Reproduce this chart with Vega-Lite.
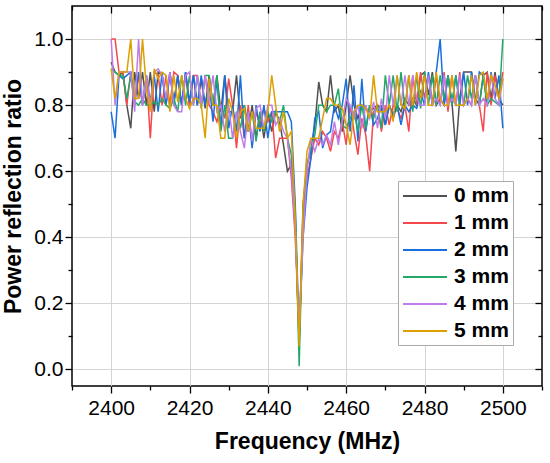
{
  "$schema": "https://vega.github.io/schema/vega-lite/v6.json",
  "width": 470,
  "height": 380,
  "autosize": {"type": "none"},
  "padding": {"left": 72, "top": 6, "right": 8, "bottom": 77},
  "background": "white",
  "data": {"values": [
    {"f":2400,"0 mm":0.93,"1 mm":1.00,"2 mm":0.78,"3 mm":0.91,"4 mm":1.00,"5 mm":0.91},
    {"f":2401,"0 mm":0.90,"1 mm":1.00,"2 mm":0.70,"3 mm":0.90,"4 mm":0.80,"5 mm":0.82},
    {"f":2402,"0 mm":0.89,"1 mm":0.90,"2 mm":0.89,"3 mm":0.89,"4 mm":0.90,"5 mm":0.90},
    {"f":2403,"0 mm":0.90,"1 mm":0.90,"2 mm":0.88,"3 mm":0.89,"4 mm":0.90,"5 mm":0.90},
    {"f":2404,"0 mm":0.80,"1 mm":0.80,"2 mm":0.89,"3 mm":0.82,"4 mm":0.90,"5 mm":0.90},
    {"f":2405,"0 mm":0.73,"1 mm":0.90,"2 mm":0.90,"3 mm":0.89,"4 mm":0.90,"5 mm":1.00},
    {"f":2406,"0 mm":0.90,"1 mm":0.80,"2 mm":0.81,"3 mm":0.81,"4 mm":0.78,"5 mm":0.82},
    {"f":2407,"0 mm":0.82,"1 mm":0.89,"2 mm":0.90,"3 mm":0.80,"4 mm":1.00,"5 mm":0.82},
    {"f":2408,"0 mm":0.90,"1 mm":0.80,"2 mm":0.80,"3 mm":0.82,"4 mm":0.80,"5 mm":1.00},
    {"f":2409,"0 mm":0.80,"1 mm":0.89,"2 mm":0.89,"3 mm":0.80,"4 mm":0.89,"5 mm":0.85},
    {"f":2410,"0 mm":0.90,"1 mm":0.70,"2 mm":0.81,"3 mm":0.80,"4 mm":0.80,"5 mm":0.78},
    {"f":2411,"0 mm":0.78,"1 mm":0.90,"2 mm":0.89,"3 mm":0.81,"4 mm":0.90,"5 mm":0.91},
    {"f":2412,"0 mm":0.90,"1 mm":0.89,"2 mm":0.78,"3 mm":0.80,"4 mm":0.91,"5 mm":0.88},
    {"f":2413,"0 mm":0.89,"1 mm":0.80,"2 mm":0.90,"3 mm":0.82,"4 mm":0.89,"5 mm":0.90},
    {"f":2414,"0 mm":0.80,"1 mm":0.89,"2 mm":0.80,"3 mm":0.80,"4 mm":0.82,"5 mm":0.89},
    {"f":2415,"0 mm":0.90,"1 mm":0.80,"2 mm":0.90,"3 mm":0.79,"4 mm":0.90,"5 mm":0.78},
    {"f":2416,"0 mm":0.81,"1 mm":0.90,"2 mm":0.80,"3 mm":0.82,"4 mm":0.80,"5 mm":0.89},
    {"f":2417,"0 mm":0.89,"1 mm":0.89,"2 mm":0.89,"3 mm":0.78,"4 mm":0.78,"5 mm":0.81},
    {"f":2418,"0 mm":0.80,"1 mm":0.80,"2 mm":0.80,"3 mm":0.89,"4 mm":0.78,"5 mm":0.89},
    {"f":2419,"0 mm":0.90,"1 mm":0.89,"2 mm":0.90,"3 mm":0.80,"4 mm":0.89,"5 mm":0.82},
    {"f":2420,"0 mm":0.80,"1 mm":0.80,"2 mm":0.81,"3 mm":0.89,"4 mm":0.90,"5 mm":0.79},
    {"f":2421,"0 mm":0.89,"1 mm":0.89,"2 mm":0.89,"3 mm":0.80,"4 mm":0.80,"5 mm":0.82},
    {"f":2422,"0 mm":0.80,"1 mm":0.89,"2 mm":0.80,"3 mm":0.89,"4 mm":0.89,"5 mm":0.82},
    {"f":2423,"0 mm":0.88,"1 mm":0.80,"2 mm":0.89,"3 mm":0.79,"4 mm":0.80,"5 mm":0.80},
    {"f":2424,"0 mm":0.79,"1 mm":0.89,"2 mm":0.80,"3 mm":0.89,"4 mm":0.89,"5 mm":0.70},
    {"f":2425,"0 mm":0.89,"1 mm":0.80,"2 mm":0.87,"3 mm":0.89,"4 mm":0.81,"5 mm":0.88},
    {"f":2426,"0 mm":0.80,"1 mm":0.78,"2 mm":0.75,"3 mm":0.80,"4 mm":0.89,"5 mm":0.80},
    {"f":2427,"0 mm":0.89,"1 mm":0.75,"2 mm":0.88,"3 mm":0.89,"4 mm":0.78,"5 mm":0.80},
    {"f":2428,"0 mm":0.78,"1 mm":0.80,"2 mm":0.73,"3 mm":0.72,"4 mm":0.80,"5 mm":0.70},
    {"f":2429,"0 mm":0.89,"1 mm":0.76,"2 mm":0.89,"3 mm":0.80,"4 mm":0.72,"5 mm":0.70},
    {"f":2430,"0 mm":0.78,"1 mm":0.88,"2 mm":0.73,"3 mm":0.70,"4 mm":0.80,"5 mm":0.82},
    {"f":2431,"0 mm":0.78,"1 mm":0.80,"2 mm":0.80,"3 mm":0.70,"4 mm":0.70,"5 mm":0.78},
    {"f":2432,"0 mm":0.89,"1 mm":0.67,"2 mm":0.72,"3 mm":0.78,"4 mm":0.78,"5 mm":0.70},
    {"f":2433,"0 mm":0.76,"1 mm":0.80,"2 mm":0.89,"3 mm":0.73,"4 mm":0.72,"5 mm":0.78},
    {"f":2434,"0 mm":0.80,"1 mm":0.70,"2 mm":0.70,"3 mm":0.80,"4 mm":0.67,"5 mm":0.79},
    {"f":2435,"0 mm":0.72,"1 mm":0.80,"2 mm":0.78,"3 mm":0.72,"4 mm":0.78,"5 mm":0.72},
    {"f":2436,"0 mm":0.80,"1 mm":0.68,"2 mm":0.67,"3 mm":0.78,"4 mm":0.69,"5 mm":0.78},
    {"f":2437,"0 mm":0.70,"1 mm":0.78,"2 mm":0.80,"3 mm":0.69,"4 mm":0.79,"5 mm":0.73},
    {"f":2438,"0 mm":0.78,"1 mm":0.74,"2 mm":0.72,"3 mm":0.78,"4 mm":0.80,"5 mm":0.73},
    {"f":2439,"0 mm":0.70,"1 mm":0.79,"2 mm":0.80,"3 mm":0.72,"4 mm":0.73,"5 mm":0.73},
    {"f":2440,"0 mm":0.78,"1 mm":0.75,"2 mm":0.70,"3 mm":0.78,"4 mm":0.80,"5 mm":0.78},
    {"f":2441,"0 mm":0.72,"1 mm":0.78,"2 mm":0.78,"3 mm":0.75,"4 mm":0.80,"5 mm":0.89},
    {"f":2442,"0 mm":0.78,"1 mm":0.64,"2 mm":0.78,"3 mm":0.78,"4 mm":0.74,"5 mm":0.80},
    {"f":2443,"0 mm":0.75,"1 mm":0.70,"2 mm":0.78,"3 mm":0.75,"4 mm":0.76,"5 mm":0.72},
    {"f":2444,"0 mm":0.68,"1 mm":0.70,"2 mm":0.78,"3 mm":0.80,"4 mm":0.72,"5 mm":0.78},
    {"f":2445,"0 mm":0.60,"1 mm":0.70,"2 mm":0.78,"3 mm":0.70,"4 mm":0.70,"5 mm":0.70},
    {"f":2446,"0 mm":0.62,"1 mm":0.58,"2 mm":0.75,"3 mm":0.65,"4 mm":0.60,"5 mm":0.72},
    {"f":2447,"0 mm":0.45,"1 mm":0.40,"2 mm":0.50,"3 mm":0.48,"4 mm":0.42,"5 mm":0.45},
    {"f":2448,"0 mm":0.08,"1 mm":0.10,"2 mm":0.10,"3 mm":0.01,"4 mm":0.12,"5 mm":0.07},
    {"f":2449,"0 mm":0.50,"1 mm":0.45,"2 mm":0.40,"3 mm":0.48,"4 mm":0.40,"5 mm":0.50},
    {"f":2450,"0 mm":0.62,"1 mm":0.58,"2 mm":0.55,"3 mm":0.62,"4 mm":0.60,"5 mm":0.66},
    {"f":2451,"0 mm":0.66,"1 mm":0.64,"2 mm":0.64,"3 mm":0.67,"4 mm":0.70,"5 mm":0.70},
    {"f":2452,"0 mm":0.74,"1 mm":0.70,"2 mm":0.76,"3 mm":0.71,"4 mm":0.66,"5 mm":0.70},
    {"f":2453,"0 mm":0.87,"1 mm":0.68,"2 mm":0.78,"3 mm":0.80,"4 mm":0.70,"5 mm":0.70},
    {"f":2454,"0 mm":0.80,"1 mm":0.72,"2 mm":0.67,"3 mm":0.80,"4 mm":0.68,"5 mm":0.76},
    {"f":2455,"0 mm":0.78,"1 mm":0.70,"2 mm":0.71,"3 mm":0.78,"4 mm":0.71,"5 mm":0.82},
    {"f":2456,"0 mm":0.89,"1 mm":0.66,"2 mm":0.72,"3 mm":0.80,"4 mm":0.68,"5 mm":0.82},
    {"f":2457,"0 mm":0.78,"1 mm":0.72,"2 mm":0.80,"3 mm":0.80,"4 mm":0.75,"5 mm":0.80},
    {"f":2458,"0 mm":0.80,"1 mm":0.70,"2 mm":0.76,"3 mm":0.85,"4 mm":0.68,"5 mm":0.80},
    {"f":2459,"0 mm":0.72,"1 mm":0.75,"2 mm":0.80,"3 mm":0.74,"4 mm":0.75,"5 mm":0.79},
    {"f":2460,"0 mm":0.80,"1 mm":0.68,"2 mm":0.88,"3 mm":0.73,"4 mm":0.82,"5 mm":0.74},
    {"f":2461,"0 mm":0.89,"1 mm":0.80,"2 mm":0.72,"3 mm":0.76,"4 mm":0.80,"5 mm":0.68},
    {"f":2462,"0 mm":0.80,"1 mm":0.72,"2 mm":0.86,"3 mm":0.78,"4 mm":0.76,"5 mm":0.78},
    {"f":2463,"0 mm":0.76,"1 mm":0.65,"2 mm":0.69,"3 mm":0.72,"4 mm":0.80,"5 mm":0.80},
    {"f":2464,"0 mm":0.80,"1 mm":0.76,"2 mm":0.88,"3 mm":0.80,"4 mm":0.73,"5 mm":0.80},
    {"f":2465,"0 mm":0.79,"1 mm":0.71,"2 mm":0.72,"3 mm":0.73,"4 mm":0.80,"5 mm":0.79},
    {"f":2466,"0 mm":0.78,"1 mm":0.60,"2 mm":0.80,"3 mm":0.80,"4 mm":0.76,"5 mm":0.76},
    {"f":2467,"0 mm":0.79,"1 mm":0.78,"2 mm":0.74,"3 mm":0.76,"4 mm":0.81,"5 mm":0.89},
    {"f":2468,"0 mm":0.80,"1 mm":0.80,"2 mm":0.76,"3 mm":0.80,"4 mm":0.73,"5 mm":0.78},
    {"f":2469,"0 mm":0.79,"1 mm":0.72,"2 mm":0.80,"3 mm":0.73,"4 mm":0.82,"5 mm":0.78},
    {"f":2470,"0 mm":0.74,"1 mm":0.80,"2 mm":0.74,"3 mm":0.89,"4 mm":0.76,"5 mm":0.78},
    {"f":2471,"0 mm":0.80,"1 mm":0.74,"2 mm":0.80,"3 mm":0.80,"4 mm":0.89,"5 mm":0.80},
    {"f":2472,"0 mm":0.76,"1 mm":0.80,"2 mm":0.77,"3 mm":0.89,"4 mm":0.80,"5 mm":0.75},
    {"f":2473,"0 mm":0.80,"1 mm":0.79,"2 mm":0.80,"3 mm":0.78,"4 mm":0.89,"5 mm":0.89},
    {"f":2474,"0 mm":0.78,"1 mm":0.76,"2 mm":0.74,"3 mm":0.90,"4 mm":0.80,"5 mm":0.80},
    {"f":2475,"0 mm":0.82,"1 mm":0.80,"2 mm":0.80,"3 mm":0.79,"4 mm":0.89,"5 mm":0.79},
    {"f":2476,"0 mm":0.80,"1 mm":0.72,"2 mm":0.78,"3 mm":0.89,"4 mm":0.80,"5 mm":0.89},
    {"f":2477,"0 mm":0.82,"1 mm":0.89,"2 mm":0.80,"3 mm":0.78,"4 mm":0.89,"5 mm":0.80},
    {"f":2478,"0 mm":0.80,"1 mm":0.80,"2 mm":0.79,"3 mm":0.89,"4 mm":0.82,"5 mm":0.90},
    {"f":2479,"0 mm":0.89,"1 mm":0.90,"2 mm":0.84,"3 mm":0.79,"4 mm":0.80,"5 mm":0.82},
    {"f":2480,"0 mm":0.90,"1 mm":0.82,"2 mm":0.80,"3 mm":0.90,"4 mm":0.80,"5 mm":0.89},
    {"f":2481,"0 mm":0.83,"1 mm":0.89,"2 mm":0.90,"3 mm":0.80,"4 mm":0.89,"5 mm":0.80},
    {"f":2482,"0 mm":0.90,"1 mm":0.80,"2 mm":0.80,"3 mm":0.89,"4 mm":0.80,"5 mm":0.80},
    {"f":2483,"0 mm":0.80,"1 mm":0.89,"2 mm":0.90,"3 mm":0.80,"4 mm":0.82,"5 mm":0.90},
    {"f":2484,"0 mm":0.82,"1 mm":0.80,"2 mm":1.00,"3 mm":0.89,"4 mm":0.80,"5 mm":0.82},
    {"f":2485,"0 mm":0.80,"1 mm":0.90,"2 mm":0.80,"3 mm":0.82,"4 mm":0.89,"5 mm":0.80},
    {"f":2486,"0 mm":0.89,"1 mm":0.78,"2 mm":0.89,"3 mm":0.89,"4 mm":0.80,"5 mm":0.80},
    {"f":2487,"0 mm":0.81,"1 mm":0.89,"2 mm":0.80,"3 mm":0.80,"4 mm":0.82,"5 mm":0.89},
    {"f":2488,"0 mm":0.66,"1 mm":0.80,"2 mm":0.89,"3 mm":0.89,"4 mm":0.80,"5 mm":0.80},
    {"f":2489,"0 mm":0.82,"1 mm":0.90,"2 mm":0.80,"3 mm":0.80,"4 mm":0.89,"5 mm":0.80},
    {"f":2490,"0 mm":0.90,"1 mm":0.80,"2 mm":0.90,"3 mm":0.80,"4 mm":0.80,"5 mm":0.80},
    {"f":2491,"0 mm":0.90,"1 mm":0.82,"2 mm":0.80,"3 mm":0.89,"4 mm":0.82,"5 mm":0.82},
    {"f":2492,"0 mm":0.90,"1 mm":0.80,"2 mm":0.90,"3 mm":0.82,"4 mm":0.80,"5 mm":0.89},
    {"f":2493,"0 mm":0.82,"1 mm":0.89,"2 mm":0.80,"3 mm":0.89,"4 mm":0.89,"5 mm":0.80},
    {"f":2494,"0 mm":0.80,"1 mm":0.80,"2 mm":0.90,"3 mm":0.80,"4 mm":0.80,"5 mm":0.89},
    {"f":2495,"0 mm":0.89,"1 mm":0.72,"2 mm":0.89,"3 mm":0.89,"4 mm":0.82,"5 mm":0.90},
    {"f":2496,"0 mm":0.90,"1 mm":0.90,"2 mm":0.80,"3 mm":0.80,"4 mm":0.80,"5 mm":0.82},
    {"f":2497,"0 mm":0.82,"1 mm":0.80,"2 mm":0.90,"3 mm":0.82,"4 mm":0.89,"5 mm":0.89},
    {"f":2498,"0 mm":0.90,"1 mm":0.89,"2 mm":0.82,"3 mm":0.81,"4 mm":0.82,"5 mm":0.86},
    {"f":2499,"0 mm":0.82,"1 mm":0.82,"2 mm":0.89,"3 mm":0.80,"4 mm":0.80,"5 mm":0.82},
    {"f":2500,"0 mm":0.80,"1 mm":0.90,"2 mm":0.73,"3 mm":1.00,"4 mm":0.88,"5 mm":0.88}
  ]},
  "transform": [
    {"fold": ["0 mm", "1 mm", "2 mm", "3 mm", "4 mm", "5 mm"], "as": ["series", "v"]}
  ],
  "encoding": {
    "x": {"field": "f", "type": "quantitative",
      "scale": {"domain": [2390, 2510], "nice": false, "zero": false}},
    "y": {"field": "v", "type": "quantitative",
      "scale": {"domain": [-0.05, 1.1], "nice": false, "zero": false}}
  },
  "layer": [
    {
      "mark": {"type": "line", "strokeWidth": 1.5, "interpolate": "linear"},
      "encoding": {
        "x": {"field": "f", "type": "quantitative",
          "axis": {
            "orient": "bottom",
            "title": "Frequency (MHz)",
            "values": [2390, 2400, 2410, 2420, 2430, 2440, 2450, 2460, 2470, 2480, 2490, 2500, 2510],
            "labelExpr": "datum.value % 20 === 0 && datum.value <= 2500 ? datum.label : ''",
            "format": "d",
            "tickSize": {"condition": {"test": "datum.value % 20 === 0", "value": 7}, "value": 4},
            "grid": true,
            "gridOpacity": {"condition": {"test": "datum.value % 20 === 0 && datum.value <= 2500", "value": 1}, "value": 0},
            "labelPadding": 4,
            "titlePadding": 12
          }},
        "y": {"field": "v", "type": "quantitative",
          "axis": {
            "orient": "left",
            "title": "Power reflection ratio",
            "values": [0, 0.1, 0.2, 0.3, 0.4, 0.5, 0.6, 0.7, 0.8, 0.9, 1.0],
            "labelExpr": "round(datum.value * 10) % 2 === 0 ? format(datum.value, '.1f') : ''",
            "tickSize": {"condition": {"test": "round(datum.value * 10) % 2 === 0", "value": 7}, "value": 4},
            "grid": true,
            "gridOpacity": {"condition": {"test": "round(datum.value * 10) % 2 === 0", "value": 1}, "value": 0},
            "labelPadding": 2,
            "titlePadding": 8
          }},
        "color": {"field": "series", "type": "nominal", "title": null,
          "scale": {"domain": ["0 mm", "1 mm", "2 mm", "3 mm", "4 mm", "5 mm"],
            "range": ["#505050", "#F5484C", "#1A6FDF", "#23A86A", "#C07CEA", "#DDA000"]},
          "legend": {
            "orient": "none", "legendX": 326, "legendY": 175,
            "symbolType": "M-1,0H3.4", "symbolSize": 400, "symbolStrokeWidth": 2,
            "labelOffset": 30, "labelFontSize": 21, "labelFontWeight": "bold",
            "labelFont": "Liberation Sans", "labelColor": "#000",
            "rowPadding": 6, "padding": 4,
            "strokeColor": "#aaaaaa", "fillColor": "white"
          }}
      }
    },
    {
      "mark": {"type": "point", "opacity": 0},
      "encoding": {
        "x": {"field": "f", "type": "quantitative",
          "axis": {
            "orient": "top", "title": null, "labels": false, "grid": false, "domain": false,
            "values": [2390, 2400, 2410, 2420, 2430, 2440, 2450, 2460, 2470, 2480, 2490, 2500, 2510],
            "tickSize": {"condition": {"test": "datum.value % 20 === 0", "value": -7}, "value": -4}
          }},
        "y": {"field": "v", "type": "quantitative",
          "axis": {
            "orient": "right", "title": null, "labels": false, "grid": false, "domain": false,
            "values": [0, 0.1, 0.2, 0.3, 0.4, 0.5, 0.6, 0.7, 0.8, 0.9, 1.0],
            "tickSize": {"condition": {"test": "round(datum.value * 10) % 2 === 0", "value": -7}, "value": -4}
          }}
      }
    }
  ],
  "resolve": {"axis": {"x": "independent", "y": "independent"}},
  "config": {
    "view": {"stroke": "#000", "strokeWidth": 1.5},
    "font": "Liberation Sans",
    "axis": {
      "domain": false,
      "tickColor": "#000",
      "tickWidth": 1.3,
      "gridColor": "#d4d4d4",
      "gridWidth": 1,
      "labelFont": "Liberation Sans",
      "labelFontSize": 21,
      "labelColor": "#000",
      "titleFont": "Liberation Sans",
      "titleFontSize": 23,
      "titleFontWeight": "bold",
      "titleColor": "#000"
    }
  }
}
